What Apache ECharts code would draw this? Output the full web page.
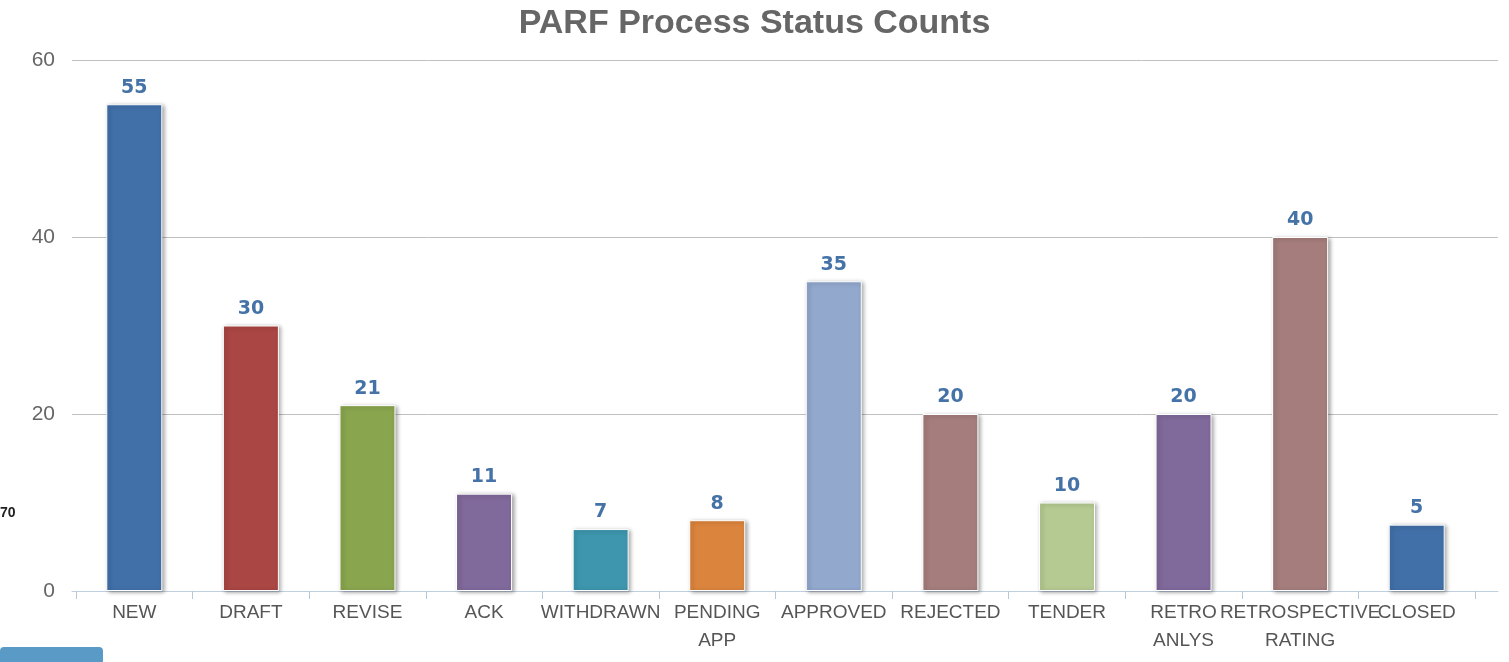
<!DOCTYPE html>
<html lang="en">
<head>
    <meta charset="UTF-8">
    <title>PARF Process Status Counts</title>
    <style>
        * { margin: 0; padding: 0; }
        body { background: #fff; }
        .mychart { width: 1509px; height: 662px; }
    </style>
</head>
<body>
    <div class="mychart"></div>
</body>
<script src="https://cdn.jsdelivr.net/npm/echarts@6/dist/echarts.min.js"></script>
<script>
    // categories on the x axis
    const statuses = ['NEW', 'DRAFT', 'REVISE', 'ACK', 'WITHDRAWN', 'PENDING\nAPP', 'APPROVED',
        'REJECTED', 'TENDER', 'RETRO\nANLYS', 'RETROSPECTIVE\nRATING', 'CLOSED']
    // bar heights as drawn
    const counts = [55, 30, 21, 11, 7, 8, 35, 20, 10, 20, 40, 7.5]
    // labels printed over the bars
    const countLabels = ['55', '30', '21', '11', '7', '8', '35', '20', '10', '20', '40', '5']
    const barColors = ['#4170a8', '#aa4643', '#89a54e', '#80699b', '#3d96ae', '#db843d', '#92a8cd',
        '#a47d7c', '#b5ca92', '#80699b', '#a47d7c', '#4170a8']
    const yTicks = [0, 20, 40, 60]

    const myChart = echarts.init(document.querySelector('.mychart'))

    const font = 'Liberation Sans'

    const config = {
        animation: false,
        title: {
            text: 'PARF Process Status Counts',
            left: 'center',
            top: 2,
            textStyle: { fontFamily: font, fontSize: 34, fontWeight: 'bold', color: '#666' }
        },
        // grid 0: the bars; grid 1: full width frame for grid lines and axis line
        grid: [
            { left: 76, right: 34, top: 60, bottom: 71 },
            { left: 72, right: 11, top: 60, bottom: 71 }
        ],
        xAxis: [{
            type: 'category',
            gridIndex: 0,
            data: statuses,
            axisLine: { show: false },
            axisTick: { show: true, length: 8, lineStyle: { color: '#b4c8dc' } },
            axisLabel: {
                fontFamily: font,
                fontSize: 19,
                color: '#555',
                margin: 8,
                lineHeight: 28,
                interval: 0
            }
        }, {
            type: 'category',
            gridIndex: 1,
            data: [],
            axisLine: { lineStyle: { color: '#c0d0e0', width: 1 } },
            axisTick: { show: false },
            axisLabel: { show: false }
        }],
        yAxis: [{
            type: 'value',
            gridIndex: 0,
            min: yTicks[0],
            max: yTicks[yTicks.length - 1],
            interval: 20,
            axisLine: { show: false },
            axisTick: { show: false },
            axisLabel: { show: false },
            splitLine: { show: false }
        }, {
            type: 'value',
            gridIndex: 1,
            min: yTicks[0],
            max: yTicks[yTicks.length - 1],
            interval: 20,
            axisLine: { show: false },
            axisTick: { show: false },
            splitLine: { lineStyle: { color: '#c0c0c0', width: 1 } },
            axisLabel: { fontFamily: font, fontSize: 21, color: '#666', margin: 17, padding: [6, 0, 0, 0] }
        }],
        graphic: [
            {
                type: 'text', left: 0, top: 506,
                style: { text: '70', fontFamily: font, fontSize: 14, fontWeight: 'bold', fill: '#222' }
            },
            {
                type: 'rect', left: 0, top: 647,
                shape: { width: 103, height: 20, r: [4, 4, 0, 0] },
                style: { fill: '#5a9ac6' }
            }
        ],
        series: [{
            type: 'bar',
            xAxisIndex: 0,
            yAxisIndex: 0,
            barWidth: 56,
            data: counts.map((v, i) => ({ value: v, itemStyle: { color: barColors[i] } })),
            itemStyle: {
                borderColor: '#fff',
                borderWidth: 1,
                shadowColor: 'rgba(0,0,0,0.35)',
                shadowBlur: 4,
                shadowOffsetX: 2,
                shadowOffsetY: 1
            },
            label: {
                show: true,
                position: 'top',
                distance: 7,
                formatter: p => countLabels[p.dataIndex],
                fontFamily: 'DejaVu Sans',
                fontSize: 19,
                fontWeight: 'bold',
                color: '#4572a7'
            }
        }]
    }
    myChart.setOption(config)
</script>
</html>
